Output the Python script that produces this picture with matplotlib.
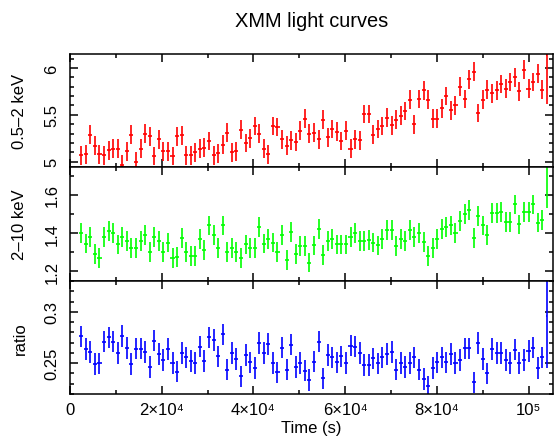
import numpy as np
import matplotlib
matplotlib.use('Agg')
import matplotlib.pyplot as plt
from matplotlib.ticker import MultipleLocator, FixedLocator, FixedFormatter

plt.rcParams['font.family'] = ['Liberation Sans', 'DejaVu Sans']
plt.rcParams['font.size'] = 12

# time bins (s): 102 regular bins plus a short last bin
time = np.append(2450 + 995 * np.arange(102), 103900)
time_err = np.append(np.full(102, 440), 120)

soft = [5.07, 5.08, 5.29, 5.17, 5.08, 5.07, 5.12, 5.14, 5.14, 4.97,
        5.11, 5.29, 5.00, 5.14, 5.30, 5.27, 5.06, 5.24, 5.11, 5.11,
        5.06, 5.27, 5.28, 5.07, 5.07, 5.10, 5.14, 5.15, 5.22, 5.07,
        5.09, 5.18, 5.31, 5.10, 5.11, 5.34, 5.20, 5.25, 5.38, 5.30,
        5.14, 5.08, 5.38, 5.37, 5.24, 5.17, 5.23, 5.21, 5.33, 5.46,
        5.30, 5.31, 5.24, 5.45, 5.26, 5.35, 5.32, 5.22, 5.33, 5.14,
        5.24, 5.23, 5.51, 5.51, 5.29, 5.35, 5.38, 5.47, 5.39, 5.45,
        5.49, 5.54, 5.66, 5.40, 5.67, 5.76, 5.66, 5.46, 5.46, 5.57,
        5.70, 5.55, 5.60, 5.80, 5.67, 5.88, 5.96, 5.52, 5.66, 5.77,
        5.73, 5.76, 5.83, 5.78, 5.85, 5.90, 5.75, 5.98, 5.78, 5.85,
        5.94, 5.77, 6.14]
soft_err = np.append(np.full(102, 0.1), 0.525)

hard = [1.40, 1.345, 1.38, 1.29, 1.27, 1.38, 1.41, 1.40, 1.34, 1.38,
        1.36, 1.32, 1.32, 1.36, 1.39, 1.30, 1.38, 1.36, 1.30, 1.35,
        1.27, 1.275, 1.375, 1.30, 1.28, 1.28, 1.37, 1.31, 1.44, 1.39,
        1.32, 1.44, 1.30, 1.32, 1.30, 1.27, 1.34, 1.32, 1.32, 1.43,
        1.345, 1.37, 1.35, 1.30, 1.39, 1.26, 1.405, 1.29, 1.33, 1.33,
        1.245, 1.335, 1.42, 1.285, 1.36, 1.37, 1.34, 1.34, 1.34, 1.38,
        1.40, 1.36, 1.36, 1.365, 1.35, 1.335, 1.37, 1.415, 1.415, 1.33,
        1.37, 1.36, 1.415, 1.38, 1.40, 1.355, 1.28, 1.32, 1.37, 1.42,
        1.43, 1.44, 1.40, 1.465, 1.50, 1.52, 1.375, 1.49, 1.44, 1.39,
        1.505, 1.505, 1.51, 1.46, 1.46, 1.55, 1.445, 1.51, 1.51, 1.55,
        1.455, 1.47, 1.82]
hard_err = np.append(np.full(102, 0.052), 0.29)

ratio = [0.276, 0.2636, 0.261, 0.249, 0.2497, 0.271, 0.275, 0.271, 0.260, 0.2766,
         0.2646, 0.249, 0.264, 0.264, 0.261, 0.2464, 0.272, 0.259, 0.253, 0.2636,
         0.250, 0.2416, 0.260, 0.2555, 0.252, 0.250, 0.266, 0.252, 0.275, 0.2727,
         0.2565, 0.278, 0.2435, 0.2597, 0.254, 0.237, 0.2578, 0.2506, 0.245, 0.2695,
         0.260, 0.2685, 0.250, 0.241, 0.265, 0.2435, 0.268, 0.246, 0.250, 0.2425,
         0.2337, 0.2513, 0.2708, 0.235, 0.2578, 0.2555, 0.2506, 0.2565, 0.250, 0.267,
         0.266, 0.260, 0.248, 0.248, 0.2545, 0.2497, 0.2555, 0.2588, 0.261, 0.2435,
         0.250, 0.246, 0.250, 0.2555, 0.2435, 0.2344, 0.2273, 0.245, 0.2506, 0.2555,
         0.2506, 0.2588, 0.250, 0.2532, 0.2643, 0.2643, 0.2312, 0.2695, 0.254, 0.240,
         0.2636, 0.2597, 0.2597, 0.2532, 0.250, 0.263, 0.250, 0.2532, 0.262, 0.265,
         0.245, 0.2555, 0.296]
ratio_err = np.append(np.full(102, 0.0105), 0.051)

xtick_vals = [0, 20000, 40000, 60000, 80000, 100000]
xtick_labels = ['0', '2×10⁴', '4×10⁴', '6×10⁴', '8×10⁴', '10⁵']

panels = [
    (soft, soft_err, 'red', '0.5–2 keV', (4.94, 6.149), [5, 5.5, 6], ['5', '5.5', '6'], 0.1),
    (hard, hard_err, '#00ff00', '2–10 keV', (1.15, 1.745), [1.2, 1.4, 1.6], ['1.2', '1.4', '1.6'], 0.1),
    (ratio, ratio_err, 'blue', 'ratio', (0.2198, 0.3304), [0.25, 0.3], ['0.25', '0.3'], 0.01),
]

fig = plt.figure(figsize=(5.54, 4.39), dpi=100)
left, width = 70 / 554, 483 / 554
bottom, top = 1 - 395 / 439, 1 - 55 / 439
h = (top - bottom) / 3

axes = []
for i, (vals, errs, col, lab, ylim, yt, ytl, ymin) in enumerate(panels):
    ax = fig.add_axes([left, top - (i + 1) * h, width, h])
    ax.errorbar(time, vals, yerr=errs, xerr=time_err, fmt='none',
                ecolor=col, elinewidth=1.2, capsize=0)
    ax.set_xlim(0, 105300)
    ax.set_ylim(*ylim)
    ax.xaxis.set_major_locator(FixedLocator(xtick_vals))
    ax.xaxis.set_minor_locator(MultipleLocator(10000))
    ax.yaxis.set_major_locator(FixedLocator(yt))
    ax.yaxis.set_major_formatter(FixedFormatter(ytl))
    ax.yaxis.set_minor_locator(MultipleLocator(ymin))
    ax.tick_params(which='both', direction='in', top=True, right=True, width=1.1)
    ax.tick_params(which='major', length=5.5)
    ax.tick_params(which='minor', length=3)
    ax.tick_params(axis='y', labelrotation=90, pad=7.5)
    for t in ax.get_yticklabels():
        t.set_va('center')
    for s in ax.spines.values():
        s.set_linewidth(1.1)
    ax.set_ylabel(lab)
    ax.yaxis.set_label_coords(-0.088, 0.5)
    if i < 2:
        ax.tick_params(axis='x', labelbottom=False)
    else:
        ax.set_xticklabels(xtick_labels)
        ax.tick_params(axis='x', pad=6)
        ax.set_xlabel('Time (s)', labelpad=2)
    axes.append(ax)

axes[0].set_title('XMM light curves', pad=20)

fig.savefig('out.png', dpi=100)
